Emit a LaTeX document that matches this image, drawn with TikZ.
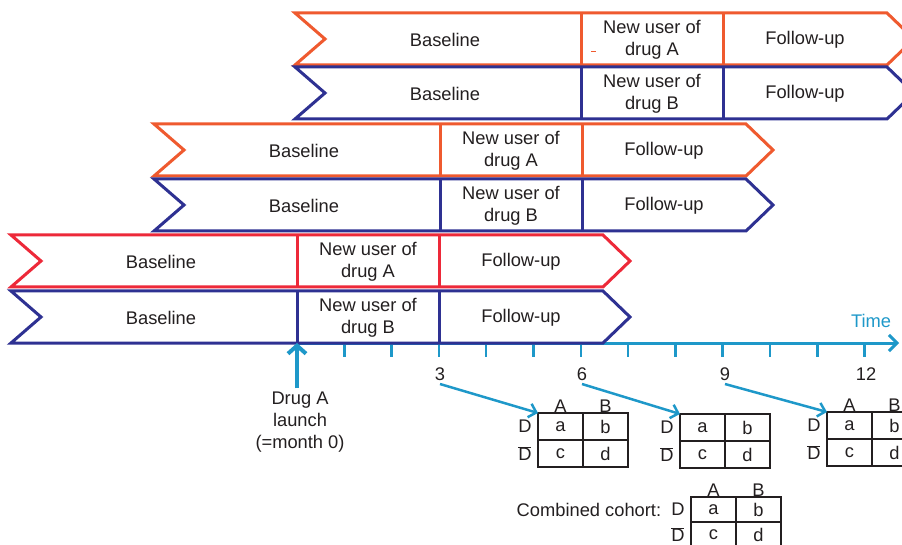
\documentclass[tikz,border=0pt]{standalone}
\usepackage{fontspec}
\setmainfont{Liberation Sans}
\usetikzlibrary{arrows.meta,positioning}

\definecolor{drugA}{HTML}{EF5A2F}
\definecolor{drugAred}{HTML}{ED2939}
\definecolor{drugB}{HTML}{2E3192}
\definecolor{timeline}{HTML}{1E98C9}
\definecolor{ink}{HTML}{231F20}

% one cohort row: #1 name, #2 colour, #3 first divider x, #4 top y, #5 drug
\newcommand{\cohortrow}[5]{%
  \draw[rowline, draw=#2, fill=white] (#3-286,#4) -- (#3+306,#4) -- (#3+333,#4+26)
    -- (#3+306,#4+52) -- (#3-286,#4+52) -- (#3-256,#4+26) -- cycle;
  \draw[rowline, draw=#2] (#3,#4) -- (#3,#4+52) (#3+142,#4) -- (#3+142,#4+52);
  \node[lbl] (#1base) at (#3-136,#4+27) {Baseline};
  \node[lbl] (#1new) at (#3+71,#4+27) {New user of\\drug #5};
  \node[lbl] (#1fu) at (#3+224,#4+27) {Follow-up};
}

% 2x2 table: [#1 cell options], #2 name, #3 top left x, #4 top left y
\newcommand{\twobytwo}[4][]{%
  \node[cell, #1, anchor=north west] (#2a) at (#3,#4) {a};
  \node[cell, #1, right=0pt of #2a] (#2b) {b};
  \node[cell, #1, below=0pt of #2a] (#2c) {c};
  \node[cell, #1, right=0pt of #2c] (#2d) {d};
  \node[lbl, left=3pt of #2a] (#2D) {D};
  \node[lbl, left=3pt of #2c] (#2Dbar) {$\overline{\mbox{D}}$};
}

\begin{document}
\begin{tikzpicture}[
  x=1pt, y=-1pt,
  font=\fontsize{18.3}{22}\selectfont,
  rowline/.style={line width=3pt},
  lbl/.style={text=ink, align=center},
  cell/.style={draw=ink, line width=1.3pt, text=ink, minimum width=45pt,
    minimum height=27pt, inner sep=0pt, outer sep=0pt},
  tick/.style={timeline, line width=2.5pt},
  pointer/.style={timeline, line width=2.5pt, -{Straight Barb[length=7pt,width=14pt]}},
  launcharrow/.style={timeline, line width=4pt, -{Straight Barb[length=8pt,width=18pt]}},
  axis/.style={timeline, line width=3pt, -{Straight Barb[length=8pt,width=16pt]}}
]
\useasboundingbox (0,0) rectangle (902,545);

% time axis
\coordinate (t0) at (297,343);
\coordinate (tend) at (899,343);
\draw[axis] (t0) -- (tend);
\foreach \m in {1,...,12}
  \draw[tick] (297+\m*47.3,343) -- ++(0,14);
\node[text=timeline] (time) at (871,321) {Time};

% staggered cohorts
\cohortrow{rowa}{drugA}{581}{13}{A}
\cohortrow{rowb}{drugB}{581}{67}{B}
\cohortrow{rowc}{drugA}{440}{124}{A}
\cohortrow{rowd}{drugB}{440}{179}{B}
\cohortrow{rowe}{drugAred}{297}{235}{A}
\cohortrow{rowf}{drugB}{297}{291}{B}
\draw[drugA, line width=1pt] (591,52) -- (596,52);

% launch
\node[lbl] (launch) at (300,422) {Drug A\\launch\\(=month 0)};
\draw[launcharrow] (launch.north -| t0) -- (t0);

% month labels
\node[lbl] (n3) at (440,374) {3};
\node[lbl] (n6) at (582,374) {6};
\node[lbl] (n9) at (725,374) {9};
\node[lbl] (n12) at (866,374) {12};

% tables at 3, 6, 9 months
\twobytwo{ta}{538}{413}
\node[lbl, above=-3pt of taa] (taA) {A};
\node[lbl, above=-3pt of tab] (taB) {B};
\twobytwo{tb}{680}{414}
\twobytwo{tc}{827}{412}
\node[lbl, above=-3pt of tca] (tcA) {A};
\node[lbl, above=-3pt of tcb] (tcB) {B};
\draw[pointer] (n3.south) -- (taa.north west);
\draw[pointer] (n6.south) -- (tba.north west);
\draw[pointer] (n9.south) -- (tca.north west);

% combined cohort
\twobytwo[minimum height=25pt]{tall}{691}{497}
\node[lbl, above=-3pt of talla] (tallA) {A};
\node[lbl, above=-3pt of tallb] (tallB) {B};
\node[lbl, left=3pt of tallD] (combined) {Combined cohort:};
\end{tikzpicture}
\end{document}
